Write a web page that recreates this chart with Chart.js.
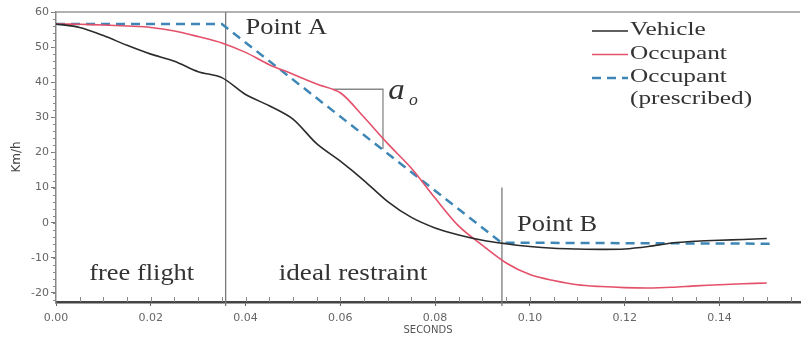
<!DOCTYPE html>
<html>
<head>
<meta charset="utf-8">
<script src="https://cdn.jsdelivr.net/npm/chart.js@4/dist/chart.umd.min.js"></script>
<style>
  html, body { margin: 0; padding: 0; background: #fff; }
</style>
</head>
<body>
<canvas id="crashChart" width="802" height="339"></canvas>
<script>
// time base (s) and speeds (km/h)
const seconds = [0, 0.005, 0.01, 0.015, 0.02, 0.025, 0.03, 0.035, 0.04, 0.045, 0.05, 0.055, 0.06, 0.065, 0.07, 0.075,
                 0.08, 0.085, 0.09, 0.095, 0.1, 0.105, 0.11, 0.115, 0.12, 0.125, 0.13, 0.135, 0.14, 0.145, 0.15];
const vehicleKmh = [56.6, 55.6, 53.3, 50.5, 48, 46, 43, 41.3, 36.5, 33.3, 29.5, 22.5, 17.5, 12, 6, 1.5,
                    -1.5, -3.5, -5, -6, -6.8, -7.3, -7.5, -7.6, -7.5, -6.8, -5.8, -5.3, -5, -4.8, -4.5];
const occupantKmh = [56.6, 56.5, 56.3, 56, 55.6, 54.6, 53, 51.2, 48.5, 45, 42.3, 39.5, 37, 30, 22.5, 15.5,
                     7, -1, -6.5, -11.5, -14.8, -16.5, -17.7, -18.2, -18.5, -18.6, -18.4, -18, -17.7, -17.4, -17.2];
const prescribedSeconds = [0, 0.035, 0.094, 0.151];
const prescribedKmh = [56.6, 56.6, -5.7, -6.0];

const xTickValues = [0, 0.02, 0.04, 0.06, 0.08, 0.1, 0.12, 0.14];
const yTickValues = [-20, -10, 0, 10, 20, 30, 40, 50, 60];

const seriesLabels = ['Vehicle', 'Occupant', 'Occupant\n(prescribed)'];
const pointA = 0.0358;
const pointB = 0.0941;
const slopeMark = { t0: 0.0585, t1: 0.069, v0: 38, v1: 21 };

function pairs(xs, ys) {
  return xs.map((x, i) => ({ x: x, y: ys[i] }));
}

// serif text, slightly stretched like the source figure
function stretchText(ctx, text, x, y, size, sx, italic) {
  ctx.save();
  ctx.translate(x, y);
  ctx.scale(sx, 1);
  ctx.font = (italic ? 'italic ' : '') + size + 'px "Liberation Serif", "DejaVu Serif", serif';
  ctx.fillStyle = '#333';
  ctx.textAlign = 'left';
  ctx.textBaseline = 'alphabetic';
  ctx.fillText(text, 0, 0);
  ctx.restore();
}

const decorPlugin = {
  id: 'decor',
  beforeDatasetsDraw(chart) {
    const { ctx, chartArea, scales: { x, y } } = chart;
    ctx.save();
    // top frame line
    ctx.strokeStyle = '#999';
    ctx.lineWidth = 1.5;
    ctx.beginPath();
    ctx.moveTo(chartArea.left, chartArea.top);
    ctx.lineTo(chartArea.right, chartArea.top);
    ctx.stroke();

    // phase boundaries
    ctx.strokeStyle = '#7a7a7a';
    ctx.lineWidth = 1.3;
    ctx.beginPath();
    ctx.moveTo(x.getPixelForValue(pointA), chartArea.top);
    ctx.lineTo(x.getPixelForValue(pointA), chartArea.bottom + 4);
    ctx.moveTo(x.getPixelForValue(pointB), y.getPixelForValue(10));
    ctx.lineTo(x.getPixelForValue(pointB), chartArea.bottom + 4);
    ctx.stroke();

    // slope marker a_o
    ctx.strokeStyle = '#888';
    ctx.lineWidth = 1.3;
    ctx.beginPath();
    ctx.moveTo(x.getPixelForValue(slopeMark.t0), y.getPixelForValue(slopeMark.v0));
    ctx.lineTo(x.getPixelForValue(slopeMark.t1), y.getPixelForValue(slopeMark.v0));
    ctx.lineTo(x.getPixelForValue(slopeMark.t1), y.getPixelForValue(slopeMark.v1));
    ctx.stroke();

    // minor ticks
    ctx.strokeStyle = '#888';
    ctx.lineWidth = 1;
    ctx.beginPath();
    for (let v = -22; v <= 60; v += 2) {
      const py = Math.round(y.getPixelForValue(v)) + 0.5;
      ctx.moveTo(chartArea.left - 3, py);
      ctx.lineTo(chartArea.left, py);
    }
    for (let t = 0.005; t < 0.157; t += 0.005) {
      const px = Math.round(x.getPixelForValue(t)) + 0.5;
      ctx.moveTo(px, chartArea.bottom);
      ctx.lineTo(px, chartArea.bottom - 5);
    }
    ctx.stroke();
    ctx.restore();
  },
  afterDraw(chart) {
    const { ctx, chartArea, scales: { x, y } } = chart;

    stretchText(ctx, 'Point A', x.getPixelForValue(0.0400), y.getPixelForValue(53.7), 23, 1.15);
    stretchText(ctx, 'Point B', x.getPixelForValue(0.0973), y.getPixelForValue(-2.5), 23, 1.15);
    stretchText(ctx, 'free flight', x.getPixelForValue(0.0070), y.getPixelForValue(-16.3), 23, 1.15);
    stretchText(ctx, 'ideal restraint', x.getPixelForValue(0.0470), y.getPixelForValue(-16.3), 23, 1.18);
    stretchText(ctx, 'a', x.getPixelForValue(0.0701), y.getPixelForValue(35.1), 30, 1.1, true);
    stretchText(ctx, 'o', x.getPixelForValue(0.0745), y.getPixelForValue(33.6), 16, 1.1, true);

    // legend
    const lineX0 = chartArea.right - 208;
    const lineX1 = chartArea.right - 172;
    const textX = chartArea.right - 170;
    let baseY = 35;
    chart.data.datasets.forEach(ds => {
      const lines = ds.label.split('\n');
      ctx.save();
      ctx.strokeStyle = ds.borderColor;
      ctx.lineWidth = ds.borderWidth;
      ctx.setLineDash(ds.borderDash || []);
      ctx.beginPath();
      ctx.moveTo(lineX0, baseY - 4);
      ctx.lineTo(lineX1, baseY - 4);
      ctx.stroke();
      ctx.restore();
      lines.forEach((ln, i) => stretchText(ctx, ln, textX, baseY + i * 22, 19, 1.33));
      baseY += lines.length * 23.5;
    });
  }
};

new Chart(document.getElementById('crashChart').getContext('2d'), {
  type: 'line',
  data: {
    datasets: [
      {
        label: seriesLabels[0],
        data: pairs(seconds, vehicleKmh),
        borderColor: '#2b2b2b',
        borderWidth: 1.6,
        pointRadius: 0,
        tension: 0.3
      },
      {
        label: seriesLabels[1],
        data: pairs(seconds, occupantKmh),
        borderColor: '#e4506a',
        borderWidth: 1.6,
        pointRadius: 0,
        tension: 0.3
      },
      {
        label: seriesLabels[2],
        data: pairs(prescribedSeconds, prescribedKmh),
        borderColor: '#3d86b6',
        borderWidth: 2.5,
        borderDash: [9, 6],
        pointRadius: 0,
        tension: 0
      }
    ]
  },
  options: {
    responsive: false,
    animation: false,
    layout: { padding: { top: 12, right: 2, left: 0, bottom: 0 } },
    scales: {
      x: {
        type: 'linear',
        min: 0,
        max: 0.157,
        afterBuildTicks: s => { s.ticks = xTickValues.map(v => ({ value: v })); },
        afterFit: s => { s.height = 37; },
        grid: { drawOnChartArea: false, tickLength: 4, color: '#666' },
        border: { color: '#444', width: 2.5 },
        ticks: {
          color: '#666',
          padding: 6,
          maxRotation: 0,
          font: { family: 'DejaVu Sans', size: 11 },
          callback: v => Number(v).toFixed(2)
        },
        title: {
          display: true,
          text: 'SECONDS',
          color: '#555',
          font: { family: 'DejaVu Sans', size: 10 },
          padding: { top: 0, bottom: 3 }
        }
      },
      y: {
        min: -22.6,
        max: 60,
        afterBuildTicks: s => { s.ticks = yTickValues.map(v => ({ value: v })); },
        afterFit: s => { s.width = 56; },
        grid: { drawOnChartArea: false, tickLength: 5, color: '#777' },
        border: { color: '#888', width: 1.5 },
        ticks: {
          color: '#666',
          padding: 2,
          font: { family: 'DejaVu Sans', size: 11 }
        },
        title: {
          display: true,
          text: 'Km/h',
          color: '#444',
          font: { family: 'DejaVu Sans', size: 12 },
          padding: { top: 10, bottom: 0 }
        }
      }
    },
    plugins: {
      legend: { display: false },
      tooltip: { enabled: false }
    }
  },
  plugins: [decorPlugin]
});
</script>
</body>
</html>
